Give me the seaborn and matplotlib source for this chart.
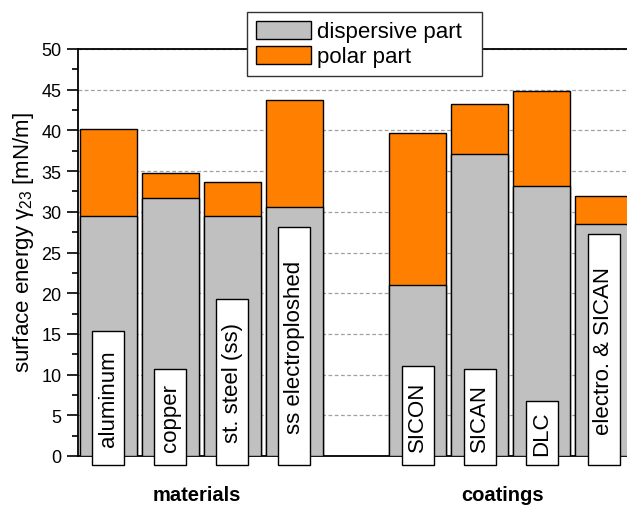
import matplotlib
matplotlib.use("Agg")
import matplotlib.pyplot as plt
import matplotlib.transforms as mtransforms
from matplotlib.path import Path
from matplotlib.patches import Patch
from matplotlib.ticker import MultipleLocator
from matplotlib.font_manager import FontProperties
import numpy as np
import pandas as pd
import seaborn as sns

# ---- data ---------------------------------------------------------------
samples = ["aluminum", "copper", "st. steel (ss)", "ss electroploshed",
           "SICON", "SICAN", "DLC", "electro. & SICAN"]
groups = ["materials", "materials", "materials", "materials",
          "coatings", "coatings", "coatings", "coatings"]
dispersive = [29.5, 31.7, 29.5, 30.6, 21.0, 37.1, 33.2, 28.5]
polar = [10.7, 3.1, 4.1, 13.1, 18.7, 6.2, 11.6, 3.4]
y_ticks = [0, 5, 10, 15, 20, 25, 30, 35, 40, 45, 50]

GRAY = "#C0C0C0"
ORANGE = "#FF8000"

df = pd.DataFrame({"sample": samples, "group": groups,
                   "dispersive": dispersive, "polar": polar})
df["total"] = df["dispersive"] + df["polar"]

# category order with an empty slot between the two groups
gap = " "
order = list(df.loc[df.group == "materials", "sample"]) + [gap] + \
        list(df.loc[df.group == "coatings", "sample"])

# ---- style --------------------------------------------------------------
sns.set_style("ticks")
plt.rcParams["font.family"] = ["Liberation Sans", "DejaVu Sans"]
plt.rcParams["mathtext.fontset"] = "custom"
plt.rcParams["mathtext.rm"] = "Liberation Sans"
plt.rcParams["mathtext.default"] = "regular"
for key in ["text.color", "axes.labelcolor", "xtick.color", "ytick.color",
            "axes.edgecolor"]:
    plt.rcParams[key] = "black"

W, H, DPI = 627, 506, 100
fig = plt.figure(figsize=(W / DPI, H / DPI), dpi=DPI, facecolor="white")
ax_left, ax_bottom, ax_w, ax_h = 78, 457, 556, 407
ax = fig.add_axes([ax_left / W, 1 - ax_bottom / H, ax_w / W, ax_h / H])
ax.set_facecolor("white")

# stacked bars: full height in orange, dispersive part in gray on top of it
bar_kw = dict(order=order, saturation=1, width=0.92, edgecolor="black",
              linewidth=1.0, errorbar=None, ax=ax, zorder=3)
sns.barplot(data=df, x="sample", y="total", color=ORANGE, **bar_kw)
sns.barplot(data=df, x="sample", y="dispersive", color=GRAY, **bar_kw)

ax.set_xlim(-0.49, len(order) - 0.51)
ax.set_ylim(0, 50)
ax.set_xticks([])
ax.set_xlabel("")
ax.set_yticks(y_ticks)
ax.yaxis.set_minor_locator(MultipleLocator(2.5))
ax.tick_params(axis="y", which="major", length=8, width=1.2, direction="out",
               labelsize=13, pad=4, colors="black", labelcolor="black")
ax.tick_params(axis="y", which="minor", length=4, width=1.2, direction="out")

ax.yaxis.grid(True, which="major", color="#A0A0A0", linestyle=(0, (3, 2)),
              linewidth=0.9)
ax.set_axisbelow(True)
for side in ["left", "bottom", "top", "right"]:
    ax.spines[side].set_visible(True)
    ax.spines[side].set_linewidth(1.3)
    ax.spines[side].set_color("black")

ax.set_ylabel("surface energy γ$_{23}$ [mN/m]", fontsize=16, color="black")
ax.yaxis.set_label_coords(-0.075, 0.526)


# ---- name tags inside the bars -----------------------------------------
def tag_box(x0, y0, width, height, mutation_size):
    along = 0.175 * width + 2
    across = 5.5
    verts = [(x0 - along, y0 - across), (x0 + width + along, y0 - across),
             (x0 + width + along, y0 + height + across),
             (x0 - along, y0 + height + across), (x0 - along, y0 - across)]
    codes = [Path.MOVETO, Path.LINETO, Path.LINETO, Path.LINETO, Path.CLOSEPOLY]
    return Path(verts, codes)


renderer = fig.canvas.get_renderer()
tag_font = FontProperties(family=["Liberation Sans"], size=16)
px_per_unit = ax_h / 50.0
for name in samples:
    xpos = order.index(name)
    w_px, _, _ = renderer.get_text_width_height_descent(name, tag_font, ismath=False)
    along = 0.175 * w_px + 2
    y0 = (-9 + along) / px_per_unit
    ax.text(xpos, y0, name, rotation=90, ha="center", va="bottom",
            fontproperties=tag_font, color="black", zorder=6, clip_on=False,
            bbox=dict(boxstyle=tag_box, facecolor="white", edgecolor="black",
                      linewidth=1.0))

# ---- group captions -----------------------------------------------------
caption_tr = mtransforms.blended_transform_factory(ax.transData, ax.transAxes)
ax.text(1.43, -0.094, "materials", transform=caption_tr, ha="center",
        va="center", fontsize=14.5, fontweight="bold", color="black")
ax.text(6.37, -0.094, "coatings", transform=caption_tr, ha="center",
        va="center", fontsize=14.5, fontweight="bold", color="black")

# ---- legend -------------------------------------------------------------
handles = [Patch(facecolor=GRAY, edgecolor="black", linewidth=1.0, label="dispersive part"),
           Patch(facecolor=ORANGE, edgecolor="black", linewidth=1.0, label="polar part")]
leg = ax.legend(handles=handles, loc="upper left", mode="expand",
                bbox_to_anchor=(247 / W, 1 - 78 / H, 235 / W, 65 / H),
                bbox_transform=fig.transFigure,
                fontsize=16, frameon=True, fancybox=False, framealpha=1,
                edgecolor="#333333", borderpad=0.4, handlelength=2.5,
                handleheight=0.85, handletextpad=0.25, labelspacing=0.15,
                borderaxespad=0)
leg.get_frame().set_linewidth(1.0)
for t in leg.get_texts():
    t.set_color("black")
leg.set_zorder(10)

fig.savefig("out.png", dpi=DPI, facecolor="white")
